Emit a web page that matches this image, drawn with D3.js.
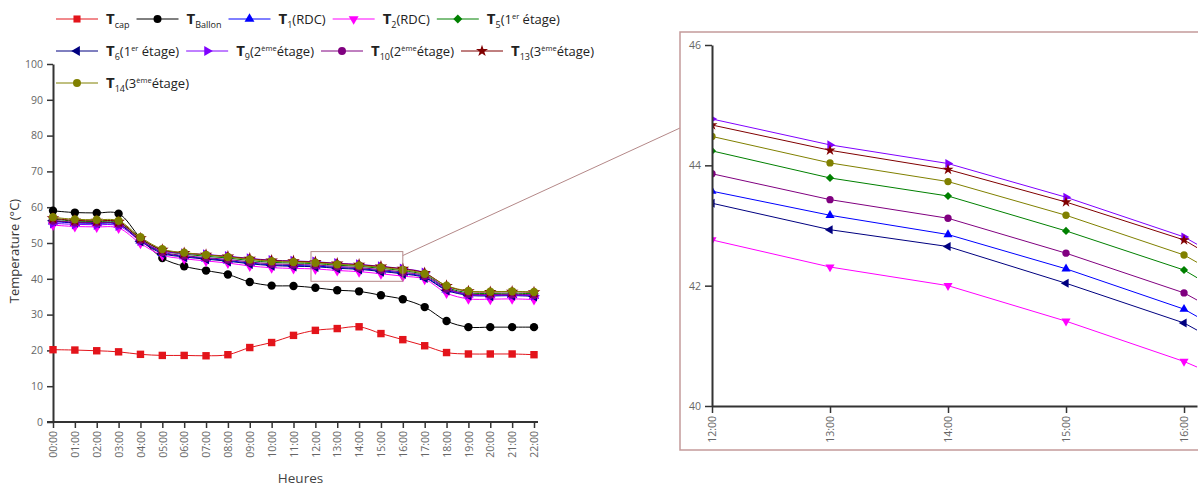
<!DOCTYPE html>
<html><head><meta charset="utf-8">
<script src="https://cdn.jsdelivr.net/npm/d3@7"></script>
<style>
body{margin:0;background:#fff;}
svg{display:block;}
text{font-family:"Open Sans",sans-serif;}
</style>
</head><body>
<svg id="c" width="1198" height="488"></svg>
<script>
// ---------------- DATA ----------------
const hours = ["00:00","01:00","02:00","03:00","04:00","05:00","06:00","07:00","08:00","09:00","10:00","11:00",
               "12:00","13:00","14:00","15:00","16:00","17:00","18:00","19:00","20:00","21:00","22:00"];
const yTicksMain = [0,10,20,30,40,50,60,70,80,90,100];
const yTicksInset = [40,42,44,46];
const insetHours = [12,13,14,15,16];

const T_cap    = [20.2,20.1,19.9,19.6,18.9,18.6,18.6,18.5,18.8,20.8,22.2,24.2,25.6,26.1,26.6,24.7,23.0,21.3,19.4,19.0,19.0,19.0,18.8];
const T_Ballon = [59.0,58.5,58.4,58.2,51.4,45.8,43.5,42.3,41.2,39.1,38.1,38.0,37.5,36.8,36.5,35.4,34.3,32.1,28.2,26.5,26.5,26.5,26.5];
const T1  = [56.0,55.6,55.5,55.2,50.7,47.3,46.3,45.7,45.1,44.4,43.9,43.7,43.57,43.17,42.85,42.28,41.61,40.5,37.0,35.6,35.4,35.5,35.3];
const T2  = [55.0,54.6,54.5,54.2,49.9,46.6,45.6,45.0,44.4,43.6,43.1,42.9,42.76,42.31,42.00,41.41,40.74,39.9,36.0,34.4,34.3,34.4,34.2];
const T5  = [56.7,56.1,56.0,55.7,51.2,47.9,46.9,46.3,45.8,45.1,44.6,44.4,44.24,43.79,43.49,42.91,42.26,41.1,37.6,36.1,35.9,36.0,35.8];
const T6  = [56.2,55.7,55.6,55.3,50.5,47.1,46.1,45.5,44.9,44.2,43.7,43.5,43.37,42.93,42.65,42.04,41.38,40.3,36.8,35.4,35.2,35.3,35.1];
const T9  = [55.5,55.2,55.1,54.8,50.6,47.8,47.1,46.8,46.3,45.7,45.2,45.0,44.77,44.34,44.03,43.47,42.81,41.7,37.2,35.6,35.4,35.5,35.3];
const T10 = [56.3,55.8,55.7,55.4,50.9,47.5,46.5,45.9,45.4,44.7,44.2,44.0,43.86,43.43,43.12,42.54,41.88,40.8,37.3,35.8,35.6,35.7,35.5];
const T13 = [56.9,56.3,56.2,55.9,51.3,48.1,47.2,46.7,46.2,45.6,45.1,44.9,44.67,44.25,43.93,43.39,42.76,41.6,38.0,36.5,36.3,36.4,36.2];
const T14 = [57.2,56.6,56.5,56.2,51.6,48.3,47.3,46.7,46.1,45.4,44.9,44.7,44.48,44.04,43.73,43.17,42.51,41.4,38.1,36.6,36.4,36.5,36.3];

const series = [
  {values:T_cap,    color:"#e3141b", sym:"square",   label:[["T","b"],["cap","sub"]]},
  {values:T_Ballon, color:"#000000", sym:"circle",   label:[["T","b"],["Ballon","sub"]]},
  {values:T1,       color:"#0000ff", sym:"triUp",    label:[["T","b"],["1","sub"],["(RDC)","n"]]},
  {values:T2,       color:"#ff00ff", sym:"triDown",  label:[["T","b"],["2","sub"],["(RDC)","n"]]},
  {values:T5,       color:"#008000", sym:"diamond",  label:[["T","b"],["5","sub"],["(1","n"],["er","sup"],[" étage)","n"]]},
  {values:T6,       color:"#000080", sym:"triLeft",  label:[["T","b"],["6","sub"],["(1","n"],["er","sup"],[" étage)","n"]]},
  {values:T9,       color:"#8000ff", sym:"triRight", label:[["T","b"],["9","sub"],["(2","n"],["ème","sup"],["étage)","n"]]},
  {values:T10,      color:"#800080", sym:"circle",   label:[["T","b"],["10","sub"],["(2","n"],["ème","sup"],["étage)","n"]]},
  {values:T13,      color:"#800000", sym:"star",     label:[["T","b"],["13","sub"],["(3","n"],["ème","sup"],["étage)","n"]]},
  {values:T14,      color:"#808000", sym:"circle",   label:[["T","b"],["14","sub"],["(3","n"],["ème","sup"],["étage)","n"]]}
];
const legendRows = [[0,1,2,3,4],[5,6,7,8],[9]];

// ---------------- HELPERS ----------------
const svg = d3.select("#c");
function symPath(type, size){
  const map = {square:d3.symbolSquare, circle:d3.symbolCircle, diamond:d3.symbolSquare, star:d3.symbolStar,
               triUp:d3.symbolTriangle, triDown:d3.symbolTriangle, triLeft:d3.symbolTriangle, triRight:d3.symbolTriangle};
  let s = size;
  if (type.startsWith("tri")) s = size*0.85;
  if (type==="diamond") s = size*0.8;
  if (type==="star") s = size*0.9;
  return d3.symbol().type(map[type]).size(s)();
}
function symRot(type){
  return {triDown:180, triLeft:-90, triRight:90, diamond:45}[type] || 0;
}
function styleAxis(g, fs){
  g.selectAll(".domain").attr("stroke","#333").attr("stroke-width",2);
  g.selectAll(".tick line").attr("stroke","#333").attr("stroke-width",1.5);
  g.selectAll(".tick text").attr("fill","#666").style("font-size",fs+"px").style("font-family","'Open Sans',sans-serif");
}

// ---------------- MAIN CHART ----------------
const x = d3.scaleLinear().domain([0,22]).range([53,534]);
const y = d3.scaleLinear().domain([0,100]).range([422,64]);

const gx = svg.append("g").attr("transform",`translate(0,${y(0)})`)
  .call(d3.axisBottom(x).tickValues(d3.range(hours.length)).tickFormat(i=>hours[i]).tickSize(6).tickSizeOuter(0));
gx.select(".domain").attr("d",`M${x(0)-6},0H${x(22)+4}`);
gx.selectAll(".tick text").attr("transform","rotate(-90)").attr("text-anchor","end")
  .attr("x",-9).attr("y",0).attr("dy","0.35em");
styleAxis(gx,10.5);

const gy = svg.append("g").attr("transform",`translate(${x(0)},0)`)
  .call(d3.axisLeft(y).tickValues(yTicksMain).tickSize(6).tickSizeOuter(0).tickPadding(4));
styleAxis(gy,10.5);

svg.append("text").attr("transform",`translate(19,${(y(0)+y(100))/2 + 8}) rotate(-90)`)
  .attr("text-anchor","middle").attr("fill","#333").style("font-size","13px").text("Temperature (°C)");
svg.append("text").attr("x",(x(0)+x(22))/2+7).attr("y",483).attr("text-anchor","middle")
  .attr("fill","#444").style("font-size","13.5px").text("Heures");

const curve = d3.curveCatmullRom.alpha(0.5);
const lineMain = d3.line().x((d,i)=>x(i)).y(d=>y(d)).curve(curve);
series.forEach(s=>{
  const g = svg.append("g");
  g.append("path").attr("d",lineMain(s.values)).attr("fill","none").attr("stroke",s.color).attr("stroke-width",1);
  g.selectAll("path.m").data(s.values).enter().append("path").attr("class","m")
    .attr("d",symPath(s.sym,55))
    .attr("transform",(d,i)=>`translate(${x(i)},${y(d)}) rotate(${symRot(s.sym)})`)
    .attr("fill",s.color);
});

// zoom rectangle
const zoomCol = "#b48888";
svg.append("rect").attr("x",x(11.8)).attr("y",y(47.6)).attr("width",x(16)-x(11.8)).attr("height",y(39.3)-y(47.6))
  .attr("fill","none").attr("stroke",zoomCol).attr("stroke-width",1);

// ---------------- INSET ----------------
const ix = d3.scaleLinear().domain([12,16.11]).range([712,1197]);
const iy = d3.scaleLinear().domain([40,46]).range([406,45]);
const boxX = 680, boxY = 32;
svg.append("line").attr("x1",x(16)).attr("y1",y(46.5)).attr("x2",boxX).attr("y2",128)
  .attr("stroke",zoomCol).attr("stroke-width",1);
svg.append("rect").attr("x",boxX).attr("y",boxY).attr("width",560).attr("height",450-boxY)
  .attr("fill","#fff").attr("stroke","#c49a9a").attr("stroke-width",1.5);

svg.append("defs").append("clipPath").attr("id","ic").append("rect")
  .attr("x",ix(12)).attr("y",iy(46)-10).attr("width",ix(16.11)-ix(12)).attr("height",iy(40)-iy(46)+10);

const ig = svg.append("g").attr("clip-path","url(#ic)");
const lineInset = d3.line().x((d,i)=>ix(i)).y(d=>iy(d)).curve(d3.curveLinear);
series.slice(2).forEach(s=>{
  ig.append("path").attr("d",lineInset(s.values)).attr("fill","none").attr("stroke",s.color).attr("stroke-width",1);
});
series.slice(2).forEach(s=>{
  ig.selectAll(null).data(insetHours).enter().append("path")
    .attr("d",symPath(s.sym,42))
    .attr("transform",h=>`translate(${ix(h)},${iy(s.values[h])}) rotate(${symRot(s.sym)})`)
    .attr("fill",s.color);
});

const igx = svg.append("g").attr("transform",`translate(0,${iy(40)})`)
  .call(d3.axisBottom(ix).tickValues(insetHours).tickFormat(h=>hours[h]).tickSize(7).tickSizeOuter(0));
igx.selectAll(".tick text").attr("transform","rotate(-90)").attr("text-anchor","end")
  .attr("x",-10).attr("y",0).attr("dy","0.35em");
styleAxis(igx,10.5);
const igy = svg.append("g").attr("transform",`translate(${ix(12)},0)`)
  .call(d3.axisLeft(iy).tickValues(yTicksInset).tickFormat(d3.format("d")).tickSize(7).tickSizeOuter(0).tickPadding(4));
styleAxis(igy,10.5);

// ---------------- LEGEND ----------------
const rowY = [19,51,83];
const fontFor = {b:["15px","bold"], n:["13px","normal"], sub:["9px","normal"], sup:["7.5px","normal"]};
const offFor = {b:0, n:0, sub:4, sup:-5};
legendRows.forEach((row,ri)=>{
  let cx = 56;
  row.forEach(idx=>{
    const s = series[idx];
    const g = svg.append("g").attr("transform",`translate(${cx},${rowY[ri]})`);
    g.append("line").attr("x1",0).attr("x2",42).attr("y1",0).attr("y2",0).attr("stroke",s.color).attr("stroke-width",1);
    g.append("path").attr("d",symPath(s.sym,50)).attr("transform",`translate(21,0) rotate(${symRot(s.sym)})`).attr("fill",s.color);
    const t = g.append("text").attr("x",50).attr("y",5).attr("fill","#222");
    let off = 0;
    s.label.forEach(([str,k])=>{
      const target = offFor[k];
      t.append("tspan").attr("dy",target-off).style("font-size",fontFor[k][0]).style("font-weight",fontFor[k][1]).text(str);
      off = target;
    });
    const w = t.node().getComputedTextLength();
    cx += 50 + w + 7;
  });
});
</script>
</body></html>
